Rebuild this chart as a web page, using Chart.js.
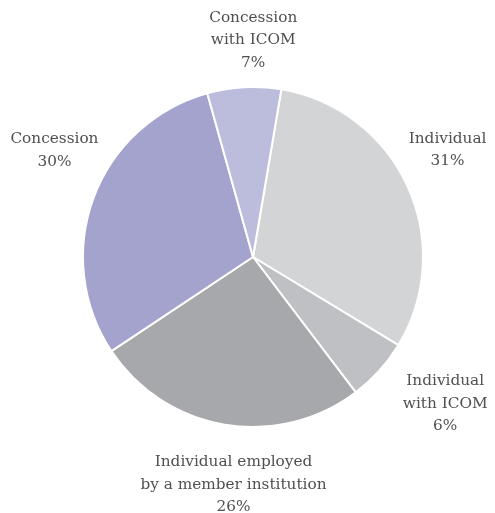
<!DOCTYPE html>
<html>
<head>
<meta charset="utf-8">
<script src="https://cdn.jsdelivr.net/npm/chart.js@4"></script>
<style>
  html, body { margin: 0; padding: 0; background: #fff; }
  #wrap { width: 495px; height: 513px; }
</style>
</head>
<body>
<div id="wrap"><canvas id="pie"></canvas></div>
<script>
// membership shares, clockwise from just right of the top
const categories = [
  ['Individual'],
  ['Individual', 'with ICOM'],
  ['Individual employed', 'by a member institution'],
  ['Concession'],
  ['Concession', 'with ICOM']
];
const shares = [31, 6, 26, 30, 7];
const sliceColors = ['#d3d4d6', '#bfc0c3', '#a7a8ab', '#a4a3cd', '#bcbcdc'];

// draws each label outside its slice, at the slice's mid angle
const outsideLabels = {
  id: 'outsideLabels',
  afterDatasetsDraw(chart, args, opts) {
    const ctx = chart.ctx;
    const meta = chart.getDatasetMeta(0);
    ctx.save();
    ctx.font = '15.3px "DejaVu Serif", serif';
    ctx.fillStyle = '#505050';
    ctx.textAlign = 'center';
    ctx.textBaseline = 'middle';
    const lineH = 22.5;
    meta.data.forEach((arc, i) => {
      const p = arc.getProps(['x', 'y', 'startAngle', 'endAngle', 'outerRadius'], true);
      const mid = (p.startAngle + p.endAngle) / 2;
      const lines = categories[i].concat([shares[i] + '%']);
      const r = p.outerRadius + 22 + lines.length * 11;
      const nudge = opts.nudge[i] || [0, 0];
      const cx = p.x + Math.cos(mid) * r + nudge[0];
      const cy = p.y + Math.sin(mid) * r + nudge[1];
      const top = cy - (lines.length - 1) * lineH / 2;
      lines.forEach((t, k) => ctx.fillText(t, cx, top + k * lineH));
    });
    ctx.restore();
  }
};

new Chart(document.getElementById('pie'), {
  type: 'pie',
  data: {
    labels: categories.map(c => c.join(' ')),
    datasets: [{
      data: shares,
      backgroundColor: sliceColors,
      borderColor: '#fff',
      borderWidth: 2
    }]
  },
  options: {
    responsive: true,
    maintainAspectRatio: false,
    animation: false,
    rotation: 9.6,
    layout: { padding: { left: 82, right: 71, top: 86, bottom: 85 } },
    plugins: {
      legend: { display: false },
      tooltip: { enabled: false },
      outsideLabels: { nudge: [[0, -18], [25, -4], [18, 6], [2, -32], [12, 8]] }
    }
  },
  plugins: [outsideLabels]
});
</script>
</body>
</html>
